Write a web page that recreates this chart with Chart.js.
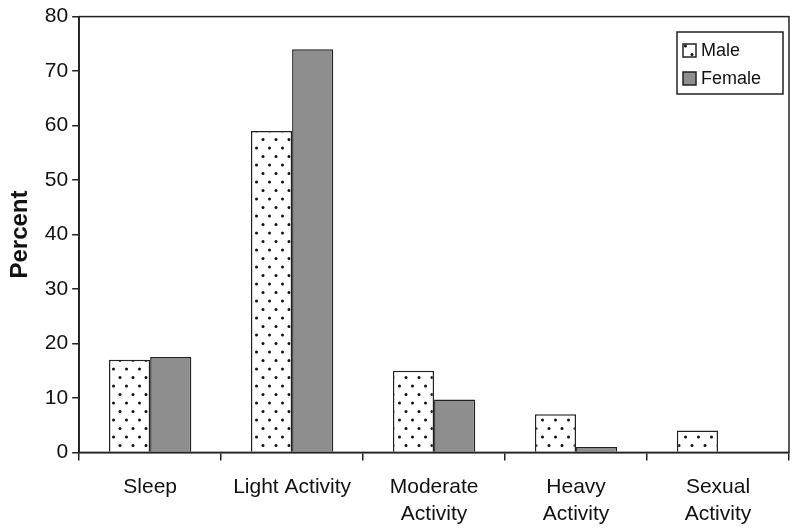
<!DOCTYPE html>
<html>
<head>
<meta charset="utf-8">
<script src="https://cdn.jsdelivr.net/npm/chart.js@4"></script>
<style>
  body { margin: 0; background: #fff; }
  #wrap { width: 800px; height: 532px; }
</style>
</head>
<body>
<div id="wrap"><canvas id="myChart"></canvas></div>
<script>
const categories = ["Sleep", ["Light Activity"], ["Moderate", "Activity"], ["Heavy", "Activity"], ["Sexual", "Activity"]];
const maleValues = [17, 59, 15, 7, 4];
const femaleValues = [17.5, 74, 9.7, 1, 0];
const yTicks = [0, 10, 20, 30, 40, 50, 60, 70, 80];

const FONT = "'Liberation Sans', Arial, sans-serif";

// dotted fill for the male bars
function dotPattern() {
  const c = document.createElement("canvas");
  c.width = 13;
  c.height = 17;
  const g = c.getContext("2d");
  g.fillStyle = "#fff";
  g.fillRect(0, 0, 13, 17);
  g.fillStyle = "#111";
  g.beginPath(); g.arc(3, 3.5, 1.5, 0, Math.PI * 2); g.fill();
  g.beginPath(); g.arc(9.5, 12, 1.5, 0, Math.PI * 2); g.fill();
  return g.createPattern(c, "repeat");
}

const frame = {
  id: "frame",
  afterDraw(chart) {
    const { ctx, chartArea: a } = chart;
    ctx.save();
    ctx.strokeStyle = "#222";
    ctx.lineWidth = 1.5;
    ctx.strokeRect(a.left, a.top, a.right - a.left, a.bottom - a.top);
    // legend box
    const x = 677, y = 32, w = 106, h = 62;
    ctx.strokeRect(x, y, w, h);
    ctx.font = "18px " + FONT;
    ctx.textBaseline = "middle";
    chart.data.datasets.forEach((ds, i) => {
      const ry = y + 18 + i * 28;
      ctx.fillStyle = ds.backgroundColor;
      ctx.fillRect(x + 6, ry - 6, 13, 13);
      ctx.strokeStyle = "#222";
      ctx.strokeRect(x + 6, ry - 6, 13, 13);
      ctx.fillStyle = "#111";
      ctx.fillText(ds.label, x + 24, ry + 1);
    });
    ctx.restore();
  }
};

new Chart(document.getElementById("myChart"), {
  type: "bar",
  data: {
    labels: categories,
    datasets: [
      {
        label: "Male",
        data: maleValues,
        backgroundColor: dotPattern(),
        borderColor: "#222",
        borderWidth: 1.5,
        categoryPercentage: 0.58,
        barPercentage: 1,
      },
      {
        label: "Female",
        data: femaleValues,
        backgroundColor: "#8e8e8e",
        borderColor: "#222",
        borderWidth: 1.5,
        categoryPercentage: 0.58,
        barPercentage: 1,
      },
    ],
  },
  options: {
    responsive: true,
    maintainAspectRatio: false,
    animation: false,
    layout: { padding: { top: 13, right: 11, bottom: -9, left: 6 } },
    plugins: { legend: { display: false }, tooltip: { enabled: false } },
    scales: {
      x: {
        grid: { offset: true, drawOnChartArea: false, tickLength: 8, color: "#222", lineWidth: 1.5 },
        border: { color: "#222", width: 1.5 },
        ticks: { color: "#111", font: { family: FONT, size: 21, lineHeight: 1.3 }, padding: 13, maxRotation: 0 },
      },
      y: {
        min: 0,
        max: 80,
        afterBuildTicks: (axis) => { axis.ticks = yTicks.map((v) => ({ value: v })); },
        grid: { drawOnChartArea: false, tickLength: 7, color: "#222", lineWidth: 1.5 },
        border: { color: "#222", width: 1.5 },
        ticks: { color: "#111", font: { family: FONT, size: 21 }, padding: 4 },
        title: { display: true, text: "Percent", color: "#111", font: { family: FONT, size: 24, weight: "bold" }, padding: { top: 0, bottom: 6 } },
      },
    },
  },
  plugins: [frame],
});
</script>
</body>
</html>
